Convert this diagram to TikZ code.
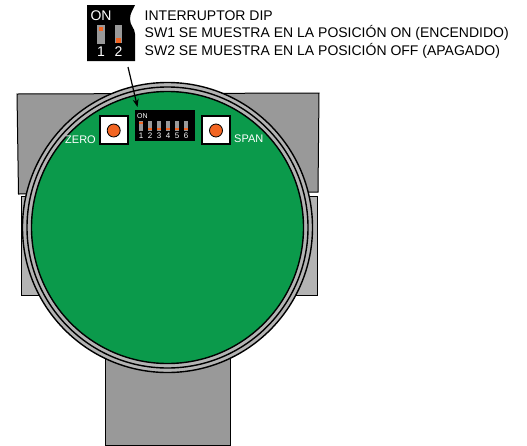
\documentclass[tikz,border=0pt]{standalone}
\usepackage{fontspec}
\setmainfont{Liberation Sans}
\usetikzlibrary{arrows.meta}
\definecolor{pcb}{HTML}{0B9A4B}
\definecolor{upgray}{HTML}{999999}
\definecolor{lowgray}{HTML}{B3B3B3}
\definecolor{btn}{HTML}{F26522}
\tikzset{
  housing/.style={draw=black,line width=1pt},
  ring/.style={draw=black,line width=1.4pt},
  keybox/.style={draw=black,fill=white,line width=1.3pt,minimum size=28pt,inner sep=0pt},
  keybtn/.style={circle,draw=black,fill=btn,line width=0.8pt,minimum size=13pt,inner sep=0pt},
  pcbtext/.style={text=white,font=\fontsize{11}{12}\selectfont,inner sep=0pt},
  caption/.style={align=left,anchor=west,inner sep=0pt,font=\fontsize{14}{17.5}\selectfont},
  dipbox/.style={fill=black,inner sep=0pt,minimum width=60pt,minimum height=31pt},
  lead/.style={line width=1.2pt,-{Stealth[length=8pt,width=6pt]}},
  insetnum/.style={text=white,font=\fontsize{14}{15}\selectfont,inner sep=0pt}
}
\begin{document}
\begin{tikzpicture}[x=1pt,y=-1pt]
\useasboundingbox (0,0) rectangle (527,445);
% housing
\filldraw[housing,fill=lowgray] (21,196) rectangle (317,295);
\filldraw[housing,fill=upgray] (17,94) -- (319,93) -- (318,192) -- (18.5,194) -- cycle;
\filldraw[housing,fill=upgray] (105.7,300) rectangle (230.7,445);
% rings
\filldraw[ring,fill=lowgray] (167.5,227.5) circle (145);
\filldraw[ring,fill=lowgray] (167.5,227.5) circle (140.5);
\filldraw[ring,fill=pcb] (167.5,227.5) circle (136);
% buttons
\node[keybox] (zerobox) at (114,130) {};
\node[keybtn] (zerobtn) at (113.7,130.5) {};
\node[keybox] (spanbox) at (216,130) {};
\node[keybtn] (spanbtn) at (216,130.5) {};
\node[pcbtext,anchor=east] (zero) at (96,140) {ZERO};
\node[pcbtext,anchor=west] (span) at (234,139) {SPAN};
% main dip
\node[dipbox,anchor=north west] (dip) at (135,110) {};
\node[text=white,font=\fontsize{7}{7}\selectfont,inner sep=0pt,anchor=west] (on) at (137,116) {ON};
\foreach \i/\yy in {1/0,2/6,3/6,4/6,5/6,6/6} {
  \pgfmathsetmacro{\xx}{141+(\i-1)*9}
  \fill[upgray] (\xx-2.2,121) rectangle (\xx+2.2,131);
  \fill[btn] (\xx-1.7,121.5+\yy) rectangle (\xx+1.7,123.5+\yy);
  \node[text=white,font=\fontsize{8}{8}\selectfont,inner sep=0pt] (n\i) at (\xx,135.5) {\i};
}
% inset dip
\fill[black] (87,5) -- (135,5) .. controls (133,10) and (130,13) .. (130,19) .. controls (130,26) and (135,28) .. (135,34) -- (135,61) -- (87,61) -- cycle;
\node[text=white,font=\fontsize{14}{15}\selectfont,inner sep=0pt] (inseton) at (101,16) {ON};
\fill[upgray] (97,25) rectangle (105,44);
\fill[btn] (99,27) rectangle (103,31);
\fill[upgray] (115,25) rectangle (122,43);
\fill[btn] (116,38) rectangle (121,43);
\node[insetnum] (one) at (101,52) {1};
\node[insetnum] (two) at (118.5,52) {2};
% caption
\node[caption] (cap) at (144.5,34.5) {INTERRUPTOR DIP\\SW1 SE MUESTRA EN LA POSICIÓN ON (ENCENDIDO)\\SW2 SE MUESTRA EN LA POSICIÓN OFF (APAGADO)};
% arrow
\coordinate (leadstart) at (128,67);
\draw[lead] (leadstart) -- (137.5,107);
\end{tikzpicture}
\end{document}
